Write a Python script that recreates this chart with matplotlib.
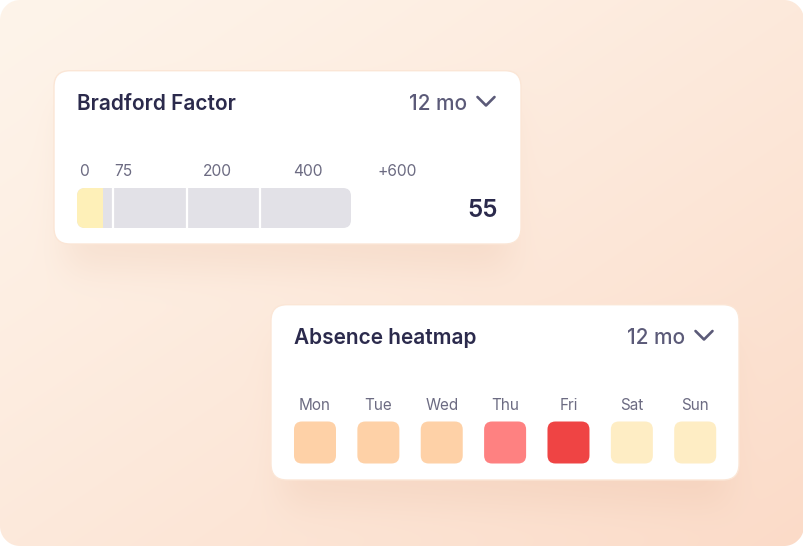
import numpy as np
import matplotlib
matplotlib.use("Agg")
import matplotlib.pyplot as plt
from matplotlib.patches import FancyBboxPatch

# ---------------- data ----------------
bradford_thresholds = [0, 75, 200, 400, 600]
bradford_labels = ["0", "75", "200", "400", "+600"]
bradford_score = 55
period_label = "12 mo"

days = ["Mon", "Tue", "Wed", "Thu", "Fri", "Sat", "Sun"]
absence_level = [1, 1, 1, 2, 3, 0, 0]          # 0 = low ... 3 = high
heat_palette = ["#feedc4", "#fed1a7", "#fe8181", "#ef4444"]

# ---------------- style / layout ----------------
W, H = 804, 546
NAVY = "#2b2a4c"
MUTED = "#5b5a78"
TICK = "#6c6b82"
BAR_GRAY = "#e2e1e7"
BAR_YELLOW = "#fef0b8"
FONT = ["Inter", "DejaVu Sans"]
plt.rcParams["font.family"] = FONT

card1 = (54, 70.7, 521, 244)      # x0, y0, x1, y1 in pixels
card2 = (271, 304.7, 739, 480)
card_radius = 16
seg_widths_px = [36, 74, 73, 91]  # visual width of each threshold band
bar_box = (77, 188, 351, 228)
label_x = [84, 123.5, 217, 308, 397]
heat_center0, heat_step, heat_cell = 315, 63.37, 42
heat_cy = 442.5

fig = plt.figure(figsize=(W / 100, H / 100), dpi=100)
ax = fig.add_axes([0, 0, 1, 1])
ax.set_xlim(0, W)
ax.set_ylim(H, 0)
ax.axis("off")

# ---------------- background image (gradient, shadows, rounded frame) ----------------
yy, xx = np.mgrid[0:H, 0:W].astype(float) + 0.5


def hex2rgb(h):
    h = h.lstrip("#")
    return np.array([int(h[i:i + 2], 16) / 255 for i in (0, 2, 4)])


def rrect_mask(x0, y0, x1, y1, r):
    dx = np.maximum(np.maximum(x0 + r - xx, xx - (x1 - r)), 0)
    dy = np.maximum(np.maximum(y0 + r - yy, yy - (y1 - r)), 0)
    d = np.sqrt(dx ** 2 + dy ** 2)
    return np.clip(r - d + 0.5, 0, 1)


def box(a, r, axis):
    a = np.moveaxis(a, axis, 0)
    p = np.pad(a, ((r + 1, r),) + ((0, 0),) * (a.ndim - 1), mode="edge")
    c = np.cumsum(p, axis=0)
    out = (c[2 * r + 1:] - c[:-2 * r - 1]) / (2 * r + 1)
    return np.moveaxis(out, 0, axis)


def blur(a, r, n=3):
    for _ in range(n):
        a = box(box(a, r, 0), r, 1)
    return a


c0, c1 = hex2rgb("#fef4ea"), hex2rgb("#fbdbc8")
t = np.clip((xx / W * 0.5 + yy / H * 0.5), 0, 1)[..., None] ** 1.2
img = c0 * (1 - t) + c1 * t

shadow_col = hex2rgb("#d99b78")
for (x0, y0, x1, y1) in (card1, card2):
    m = rrect_mask(x0 + 10, y0 + 28, x1 - 10, y1 + 26, card_radius)
    a = blur(m, 15) * 0.15
    img = img * (1 - a[..., None]) + shadow_col * a[..., None]

frame = rrect_mask(0, 0, W, H, 20)[..., None]
img = img * frame + (1 - frame) * 1.0
ax.imshow(img, extent=(0, W, H, 0), origin="upper", interpolation="bilinear", zorder=0)
ax.set_xlim(0, W)
ax.set_ylim(H, 0)


def card(c):
    x0, y0, x1, y1 = c
    p = FancyBboxPatch((x0, y0), x1 - x0, y1 - y0,
                       boxstyle=f"round,pad=0,rounding_size={card_radius}",
                       facecolor="white", edgecolor="#fbe6d6", linewidth=1.0, zorder=2)
    ax.add_patch(p)


def header(c, title):
    x0, y0, x1, y1 = c
    base = y0 + 39.3
    ax.text(x0 + 23, base, title, fontsize=15, fontweight="semibold", color=NAVY,
            va="baseline", ha="left", zorder=5)
    ax.text(x1 - 54, base, period_label, fontsize=15, fontweight="medium", color=MUTED,
            va="baseline", ha="right", zorder=5)
    cx = x1 - 35
    ax.plot([cx - 8.5, cx, cx + 8.5], [base - 13, base - 4.5, base - 13], color=MUTED,
            lw=1.9, solid_capstyle="round", solid_joinstyle="round", zorder=5)


card(card1)
card(card2)
header(card1, "Bradford Factor")
header(card2, "Absence heatmap")

# ---------------- Bradford bar ----------------
frac = np.concatenate([[0], np.cumsum(seg_widths_px)]) / np.sum(seg_widths_px)
bx0, by0, bx1, by1 = bar_box
bax = fig.add_axes([bx0 / W, 1 - by1 / H, (bx1 - bx0) / W, (by1 - by0) / H])
bax.set_xscale("function", functions=(lambda v: np.interp(v, bradford_thresholds, frac),
                                      lambda f: np.interp(f, frac, bradford_thresholds)))
bax.set_xlim(bradford_thresholds[0], bradford_thresholds[-1])
bax.set_ylim(-0.5, 0.5)
bax.axis("off")
bax.patch.set_alpha(0)

clip = FancyBboxPatch((bx0, by0), bx1 - bx0, by1 - by0,
                      boxstyle="round,pad=0,rounding_size=8", transform=ax.transData)
arts = []
for lo, hi in zip(bradford_thresholds[:-1], bradford_thresholds[1:]):
    arts += list(bax.barh(0, hi - lo, left=lo, height=1, color=BAR_GRAY, linewidth=0))
arts += list(bax.barh(0, bradford_score, left=0, height=1, color=BAR_YELLOW, linewidth=0))
for thr in bradford_thresholds[1:-1]:
    arts.append(bax.axvline(thr, color="white", lw=1.6))
for a in arts:
    a.set_clip_path(clip)

for lx, lab in zip(label_x, bradford_labels):
    ax.text(lx, 175.7, lab, fontsize=11.2, color=TICK, ha="center", va="baseline", zorder=5)

ax.text(card1[2] - 23, 217, str(bradford_score), fontsize=17.5, fontweight="semibold",
        color=NAVY, ha="right", va="baseline", zorder=5)

# ---------------- Absence heatmap ----------------
n = len(days)
hx0 = heat_center0 - heat_step / 2
hax = fig.add_axes([hx0 / W, 1 - (heat_cy + heat_step / 2) / H,
                    n * heat_step / W, heat_step / H])
hax.set_xlim(-0.5, n - 0.5)
hax.set_ylim(0.5, -0.5)
hax.axis("off")
hax.patch.set_alpha(0)
s = heat_cell / heat_step
rr = 8 / heat_step
for i, (d, lvl) in enumerate(zip(days, absence_level)):
    hax.add_patch(FancyBboxPatch((i - s / 2, -s / 2), s, s,
                                 boxstyle=f"round,pad=0,rounding_size={rr}",
                                 facecolor=heat_palette[lvl], edgecolor="none"))
    hax.text(i, (410 - heat_cy) / heat_step, d, fontsize=11, color=TICK,
             ha="center", va="baseline", clip_on=False)

fig.savefig("out.png", dpi=100)
